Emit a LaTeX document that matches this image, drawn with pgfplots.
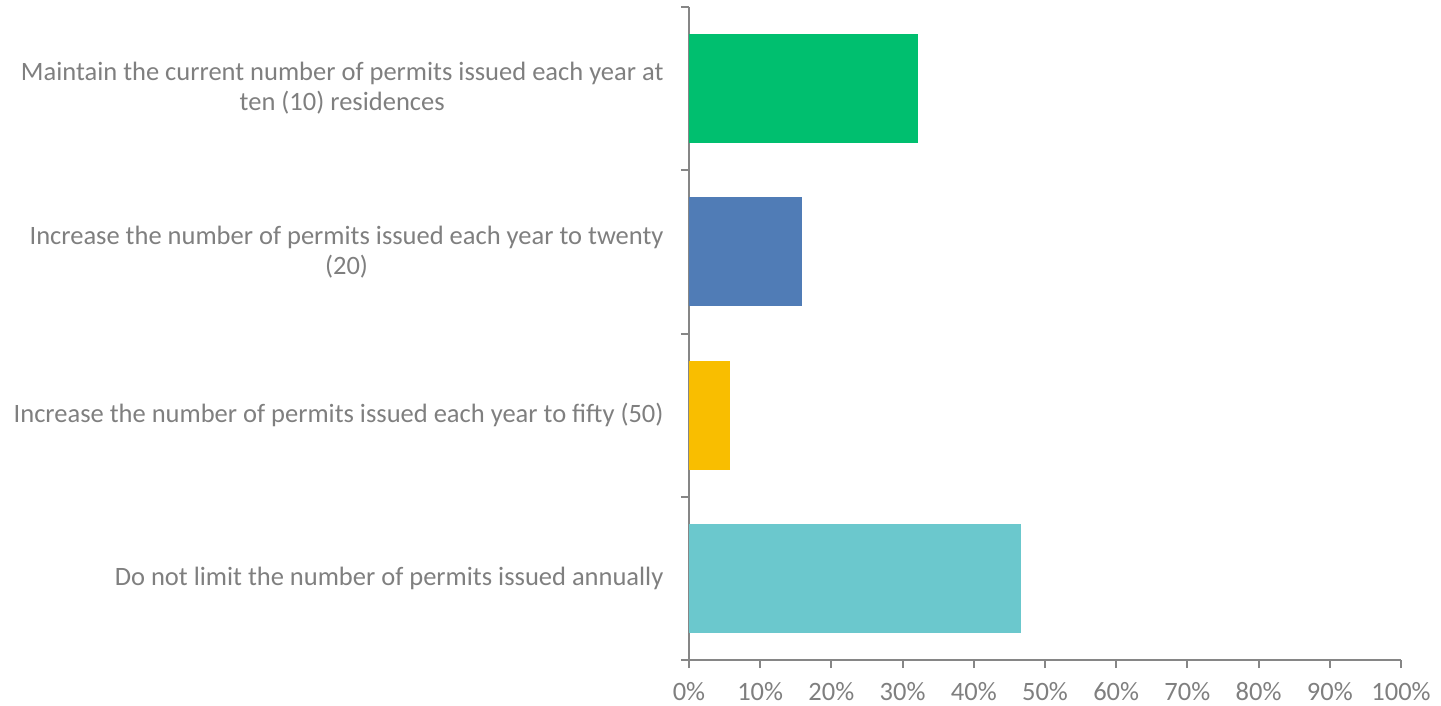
\documentclass[border=0pt]{standalone}
\usepackage{pgfplots}
\pgfplotsset{compat=1.18}
\usepackage{fontspec}
\setmainfont{Carlito}
\definecolor{cgreen}{HTML}{00BF6F}
\definecolor{cblue}{HTML}{507CB6}
\definecolor{cyellow}{HTML}{F9BE00}
\definecolor{cteal}{HTML}{6BC8CD}
\definecolor{axgray}{RGB}{134,134,134}
\definecolor{txtgray}{RGB}{127,127,127}
\begin{document}
\begin{tikzpicture}
\begin{axis}[
  scale only axis,
  width=712pt, height=653pt,
  xmin=0, xmax=100,
  ymin=-0.5, ymax=3.5,
  axis x line*=bottom,
  axis y line*=left,
  axis line style={axgray, line width=2pt},
  xtick={0,10,...,100},
  xticklabel={\pgfmathprintnumber{\tick}\%},
  ytick={0,1,2,3},
  yticklabels={Do not limit the number of permits issued annually,
    Increase the number of permits issued each year to fifty (50),
    {Increase the number of permits issued each year to twenty\\(20)},
    {Maintain the current number of permits issued each year at\\ten (10) residences}},
  minor ytick={-0.5,0.5,1.5,2.5,3.5},
  major y tick style={draw=none},
  minor tick length=8pt,
  major tick length=8pt,
  tick align=outside,
  tick style={axgray, line width=2pt},
  /pgf/number format/assume math mode=true,
  tick label style={font=\fontsize{26.5}{30}\selectfont, text=txtgray},
  yticklabel style={align=center, xshift=-14pt},
  xticklabel style={yshift=-11pt},
  xbar, bar width=0.667, bar shift=0pt,
  clip=false,
]
\addplot[fill=cteal, draw=none] coordinates {(46.6,0)};
\addplot[fill=cyellow, draw=none] coordinates {(5.75,1)};
\addplot[fill=cblue, draw=none] coordinates {(15.9,2)};
\addplot[fill=cgreen, draw=none] coordinates {(32.1,3)};
\end{axis}
\path ([shift={(-689pt,-45pt)}]current axis.south west) rectangle ++(1441pt,705pt);
\end{tikzpicture}
\end{document}
